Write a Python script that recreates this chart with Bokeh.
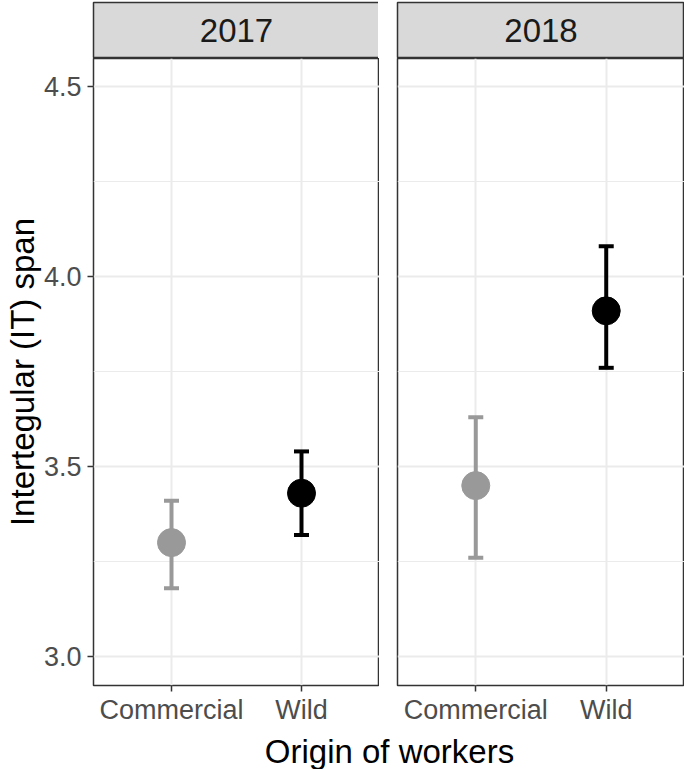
from bokeh.plotting import figure
from bokeh.layouts import row, column
from bokeh.models import ColumnDataSource, FixedTicker, Range1d, FactorRange, CustomJSTickFormatter
from bokeh.transform import factor_cmap
from bokeh.core.properties import value
from bokeh.embed import file_html
from bokeh.resources import INLINE

years = ["2017", "2018"]
origins = ["Commercial", "Wild"]
mean_2017 = [3.30, 3.43]
lower_2017 = [3.18, 3.32]
upper_2017 = [3.41, 3.54]
mean_2018 = [3.45, 3.91]
lower_2018 = [3.26, 3.76]
upper_2018 = [3.63, 4.08]
y_ticks = [3.0, 3.5, 4.0, 4.5]
y_minor = [3.25, 3.75, 4.25]

FONT = "Liberation Sans"
colors = ["#999999", "#000000"]
yr = (2.924, 4.574)

panels = []
for i, (yr_lbl, m, lo, up) in enumerate(zip(years, [mean_2017, mean_2018],
                                             [lower_2017, lower_2018],
                                             [upper_2017, upper_2018])):
    left_b = 92 if i == 0 else 18
    fw = 286 if i == 0 else 287
    # facet strip
    s = figure(frame_width=fw, frame_height=56, x_range=Range1d(0, 1), y_range=Range1d(0, 1),
               output_backend="svg", toolbar_location=None, min_border_left=left_b,
               min_border_right=0, min_border_top=2, min_border_bottom=0)
    s.axis.visible = False
    s.grid.visible = False
    s.background_fill_color = "#d9d9d9"
    s.outline_line_color = "#333333"
    s.outline_line_width = 1.5
    s.text(x=[0.5], y=[0.5], text=[yr_lbl], text_align="center", text_baseline="middle",
           text_font=value(FONT), text_font_size="33px", text_color="#1a1a1a")

    src = ColumnDataSource(dict(origin=origins, mean=m, lower=lo, upper=up))
    p = figure(frame_width=fw, frame_height=627, x_range=FactorRange(*origins, range_padding=0.1),
               y_range=Range1d(*yr), output_backend="svg", toolbar_location=None,
               min_border_left=left_b, min_border_right=0, min_border_top=0, min_border_bottom=0)
    p.outline_line_color = "#333333"
    p.outline_line_width = 1.5
    p.yaxis.ticker = FixedTicker(ticks=y_ticks, minor_ticks=y_minor)
    p.yaxis.formatter = CustomJSTickFormatter(code="return tick.toFixed(1)")
    for ax in p.axis:
        ax.axis_line_color = None
        ax.major_tick_line_color = "#333333"
        ax.major_tick_line_width = 1.5
        ax.major_tick_out = 6
        ax.major_tick_in = 0
        ax.minor_tick_line_color = None
        ax.major_label_text_font = FONT
        ax.major_label_text_font_size = "27px"
        ax.major_label_text_color = "#4d4d4d"
        ax.axis_label_text_font = FONT
        ax.axis_label_text_font_style = "normal"
        ax.axis_label_text_color = "#000000"
    p.xaxis.major_label_standoff = 3
    p.yaxis.major_label_standoff = 6
    if i == 0:
        p.yaxis.axis_label = "Intertegular (IT) span"
        p.yaxis.axis_label_text_font_size = "33px"
        p.yaxis.axis_label_standoff = 0
    else:
        p.yaxis.visible = False
    p.xgrid.grid_line_color = "#ebebeb"
    p.xgrid.grid_line_width = 2
    p.ygrid.grid_line_color = "#ebebeb"
    p.ygrid.grid_line_width = 2
    p.ygrid.minor_grid_line_color = "#ebebeb"
    p.ygrid.minor_grid_line_width = 1.2
    p.ygrid.ticker = FixedTicker(ticks=y_ticks, minor_ticks=y_minor)

    cmap = factor_cmap("origin", colors, origins)
    p.segment(x0="origin", y0="lower", x1="origin", y1="upper", source=src,
              line_color=cmap, line_width=4)
    p.scatter(x="origin", y="upper", source=src, marker="dash", size=15,
              line_color=cmap, line_width=4)
    p.scatter(x="origin", y="lower", source=src, marker="dash", size=15,
              line_color=cmap, line_width=4)
    p.scatter(x="origin", y="mean", source=src, marker="circle", size=28,
              fill_color=cmap, line_color=cmap)
    panels.append(column(s, p, spacing=0))

lab = figure(width=683, height=44, x_range=Range1d(0, 683), y_range=Range1d(0, 44),
             output_backend="svg", toolbar_location=None, min_border=0)
lab.axis.visible = False
lab.grid.visible = False
lab.outline_line_color = None
lab.text(x=[389], y=[20], text=["Origin of workers"], text_align="center",
         text_baseline="middle", text_font=value(FONT), text_font_size="33px",
         text_color="#000000")

layout = column(row(*panels, spacing=0), lab, spacing=0)
open("out.html", "w").write(file_html(layout, INLINE))
